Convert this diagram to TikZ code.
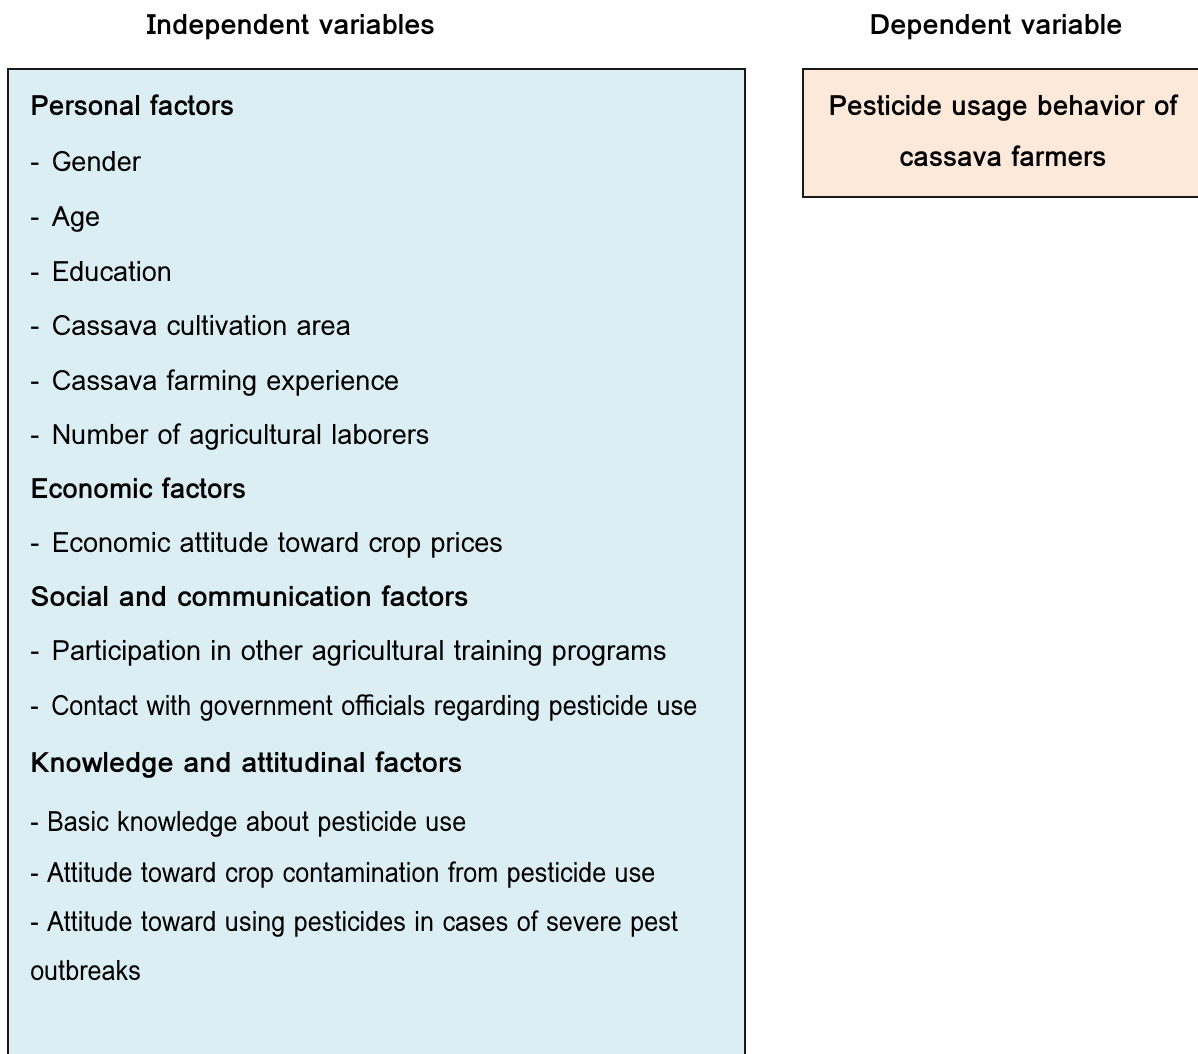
\documentclass[tikz,border=0pt]{standalone}
\usepackage{fontspec}
\setmainfont{Loma}
\newfontfamily\itmfont[FakeStretch=0.97]{Loma}
\newfontfamily\narrowfont[FakeStretch=0.9]{Loma}
\newfontfamily\widefont[FakeStretch=1.035]{Loma}
\usepackage{tikz}
\definecolor{indepfill}{RGB}{219,238,244}
\definecolor{depfill}{RGB}{253,233,217}
\definecolor{boxline}{gray}{0.1}
\newcommand{\dashgap}{-\hspace{0.45em}}
\tikzset{
  hdr/.style={font=\fontsize{21}{25}\selectfont\widefont\bfseries,anchor=base},
  grp/.style={font=\fontsize{21}{25}\selectfont\bfseries,anchor=base west,inner sep=0pt},
  widegrp/.style={grp,font=\fontsize{21}{25}\selectfont\widefont\bfseries},
  itm/.style={font=\fontsize{21}{25}\selectfont\itmfont,anchor=base west,inner sep=0pt},
  narrowitm/.style={itm,font=\fontsize{21}{25}\selectfont\narrowfont},
  depl/.style={font=\fontsize{21}{25}\selectfont\bfseries,anchor=base,inner sep=0pt},
}
\begin{document}
\begin{tikzpicture}[x=0.75pt,y=-0.75pt]
  \useasboundingbox (0,0) rectangle (1198,1053);
  \begin{scope}
  \clip (0,0) rectangle (1198,1053);
  \filldraw[fill=indepfill,draw=boxline,line width=1.1pt] (8,69) rectangle (745,1070);
  \filldraw[fill=depfill,draw=boxline,line width=1.1pt] (803,69) rectangle (1215,197);
  \end{scope}
  \node[hdr] (indep) at (291,34) {Independent variables};
  \node[hdr] (dep) at (996,34) {Dependent variable};
  \node[depl] (depA) at (1003,115) {Pesticide usage behavior of};
  \node[depl] (depB) at (1003,166) {cassava farmers};
  % personal
  \node[grp] (pers) at (30,115) {Personal factors};
  \node[itm] (gend) at (30,171) {\dashgap Gender};
  \node[itm] (age) at (30,226) {\dashgap Age};
  \node[itm] (educ) at (30,281) {\dashgap Education};
  \node[itm] (area) at (30,335) {\dashgap Cassava cultivation area};
  \node[itm] (expr) at (30,390) {\dashgap Cassava farming experience};
  \node[itm] (labr) at (30,444) {\dashgap Number of agricultural laborers};
  % economic
  \node[grp] (econ) at (30,498) {Economic factors};
  \node[itm] (price) at (30,552) {\dashgap Economic attitude toward crop prices};
  % social
  \node[widegrp] (soc) at (30,606) {Social and communication factors};
  \node[itm] (train) at (30,660) {\dashgap Participation in other agricultural training programs};
  \node[narrowitm] (offc) at (30,715) {\dashgap Contact with government officials regarding pesticide use};
  % knowledge
  \node[widegrp] (know) at (30,772) {Knowledge and attitudinal factors};
  \node[narrowitm] (basic) at (30,831) {- Basic knowledge about pesticide use};
  \node[narrowitm] (cont) at (30,882) {- Attitude toward crop contamination from pesticide use};
  \node[narrowitm] (sevA) at (30,931) {- Attitude toward using pesticides in cases of severe pest};
  \node[narrowitm] (sevB) at (30,980) {outbreaks};
\end{tikzpicture}
\end{document}
